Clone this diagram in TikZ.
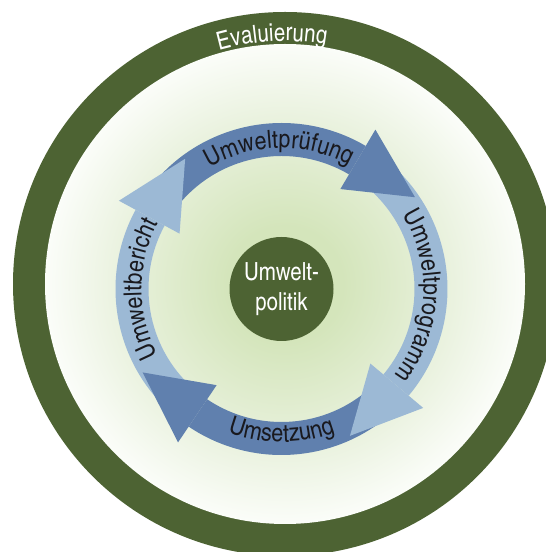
\documentclass[tikz,border=0pt]{standalone}
\usepackage{fontspec}
\setmainfont{texgyreheroscn-regular.otf}
\newfontfamily\arcfamily[FakeStretch=1.06]{texgyreheroscn-regular.otf}
\usetikzlibrary{calc,decorations.text}

\definecolor{ringgreen}{RGB}{77,99,51}
\definecolor{darkarrow}{RGB}{96,128,174}
\definecolor{lightarrow}{RGB}{156,185,213}
\definecolor{discmid}{RGB}{212,229,187}
\definecolor{discsoft}{RGB}{234,242,223}
\definecolor{discedge}{RGB}{251,253,249}
\definecolor{labelink}{RGB}{25,25,30}

% the disc edge sits at 25bp of the shading
\pgfdeclareradialshading{discshade}{\pgfpoint{0bp}{0bp}}{color(0bp)=(discmid); color(6bp)=(discmid); color(17.5bp)=(discsoft); color(25bp)=(discedge); color(50bp)=(discedge)}

\newcommand\arclabelfont{\arcfamily\fontsize{25}{25}\selectfont}
\newcommand\ringlabelfont{\fontsize{25}{25}\selectfont}

\begin{document}
\begin{tikzpicture}[x=1pt, y=1pt, every node/.style={font=\fontsize{25}{30}\selectfont}]

    % Setup (1 unit = 1 pixel of the original)
    \def\rout{272}   % ring outer radius
    \def\rin{240}    % ring inner radius
    \def\aout{166}   % arrow band outer radius
    \def\ain{133}    % arrow band inner radius
    \def\hout{185}   % arrow head outer corner
    \def\hin{116}    % arrow head inner corner
    \def\tipr{162}   % arrow tip radius

    \useasboundingbox (0,0) rectangle (546,552);
    \clip (0,0) rectangle (546,552);

    \coordinate (ring) at (285,268);
    \coordinate (mid) at (281.5,263);

    % Evaluation ring and shaded disc
    \fill[ringgreen] (ring) circle (\rout);
    \shade[shading=discshade] (ring) circle (\rin);
    \path[decorate, decoration={text along path, text align=center, text color=white,
        text={|\ringlabelfont|Evaluierung}}]
        ([shift={(123:243)}]ring) arc[start angle=123, end angle=63, radius=243];

    % Arrow bands (tails sit under the previous head)
    \foreach \col/\from/\base in {darkarrow/143.5/59.5, lightarrow/51.5/-40,
                                  darkarrow/-48/-124, lightarrow/-132/-208.5}{
        \fill[\col] ([shift={(\from:\aout)}]mid) arc[start angle=\from, end angle=\base, radius=\aout]
            -- ([shift={(\base:\ain)}]mid) arc[start angle=\base, end angle=\from, radius=\ain] -- cycle;
    }
    % Arrow heads
    \foreach \col/\base in {darkarrow/59.5, lightarrow/-40, darkarrow/-124, lightarrow/-208.5}{
        \fill[\col] ([shift={(\base:\hout)}]mid) -- ([shift={(\base-25:\tipr)}]mid)
            -- ([shift={(\base:\hin)}]mid) -- cycle;
    }

    % Labels along the cycle
    \path[decorate, decoration={text along path, text align=center, text color=labelink,
        text={|\arclabelfont|Umweltprüfung}}]
        ([shift={(139:141)}]mid) arc[start angle=139, end angle=43, radius=141];
    \path[decorate, decoration={text along path, text align=center, text color=labelink,
        text={|\arclabelfont|Umweltprogramm}}]
        ([shift={(42:142)}]mid) arc[start angle=42, end angle=-48, radius=142];
    \path[decorate, decoration={text along path, text align=center, text color=labelink,
        text={|\arclabelfont|Umsetzung}}]
        ([shift={(-130:153)}]mid) arc[start angle=-130, end angle=-50, radius=153];
    \path[decorate, decoration={text along path, text align=center, text color=labelink,
        text={|\arclabelfont|Umweltbericht}}]
        ([shift={(225:140)}]mid) arc[start angle=225, end angle=135, radius=140];

    % Policy in the centre
    \node[circle, fill=ringgreen, minimum size=104pt, inner sep=0pt, text=white, align=center]
        (politik) at (mid) {Umwelt-\\politik};

\end{tikzpicture}
\end{document}
